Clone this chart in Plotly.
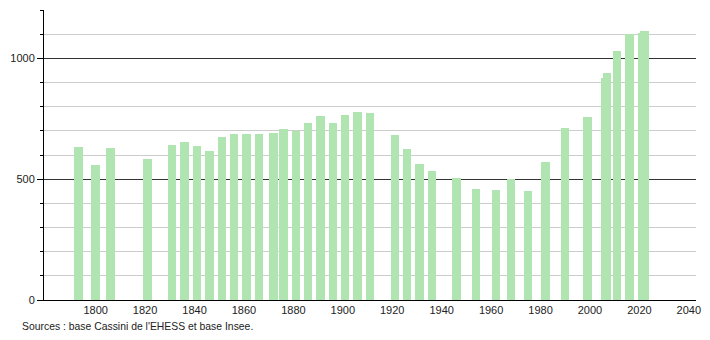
import plotly.graph_objects as go

years = [1793, 1800, 1806, 1821, 1831, 1836, 1841, 1846, 1851, 1856, 1861, 1866,
         1872, 1876, 1881, 1886, 1891, 1896, 1901, 1906, 1911, 1921, 1926, 1931,
         1936, 1946, 1954, 1962, 1968, 1975, 1982, 1990, 1999, 2006, 2007, 2011,
         2016, 2021, 2022]
population = [633, 558, 627, 582, 640, 652, 637, 615, 674, 685, 685, 685,
              690, 706, 701, 734, 760, 731, 764, 777, 773, 683, 623, 561,
              532, 505, 461, 457, 499, 451, 569, 710, 756, 918, 939, 1032,
              1100, 1104, 1112]
y_ticks = [0, 500, 1000]
x_ticks = [1800, 1820, 1840, 1860, 1880, 1900, 1920, 1940, 1960, 1980, 2000, 2020, 2040]
source_text = "Sources : base Cassini de l'EHESS et base Insee."

fig = go.Figure()
fig.add_trace(go.Bar(
    x=years, y=population, width=3.4,
    marker=dict(color="rgb(176,228,176)", line=dict(width=0)),
    hoverinfo="x+y",
))

fig.update_layout(
    width=710, height=340,
    margin=dict(l=44, r=9, t=10, b=40),
    plot_bgcolor="white", paper_bgcolor="white",
    showlegend=False,
    font=dict(family="Liberation Sans, Arial, sans-serif", size=11, color="#222"),
    bargap=0,
    annotations=[dict(
        text=source_text, xref="paper", yref="paper",
        x=-24 / 657, y=-0.065, xanchor="left", yanchor="top",
        showarrow=False, font=dict(size=10.4, color="#222"),
    )],
)

fig.update_xaxes(
    range=[1779.1, 2042.9],
    tickvals=x_ticks, ticktext=[str(v) for v in x_ticks],
    showgrid=False, zeroline=False,
    showline=True, linecolor="black", linewidth=1,
    ticks="", ticklabelstandoff=0,
)
fig.update_yaxes(
    range=[0, 1200],
    tickvals=y_ticks, ticktext=[str(v) for v in y_ticks],
    showgrid=True, gridcolor="#333", gridwidth=1,
    zeroline=False,
    showline=True, linecolor="black", linewidth=1,
    ticks="outside", ticklen=6, tickcolor="black",
    minor=dict(dtick=100, tick0=0, showgrid=True, gridcolor="#cccccc",
               gridwidth=1, ticks="outside", ticklen=3, tickcolor="black"),
)

fig.write_html("out.html")
